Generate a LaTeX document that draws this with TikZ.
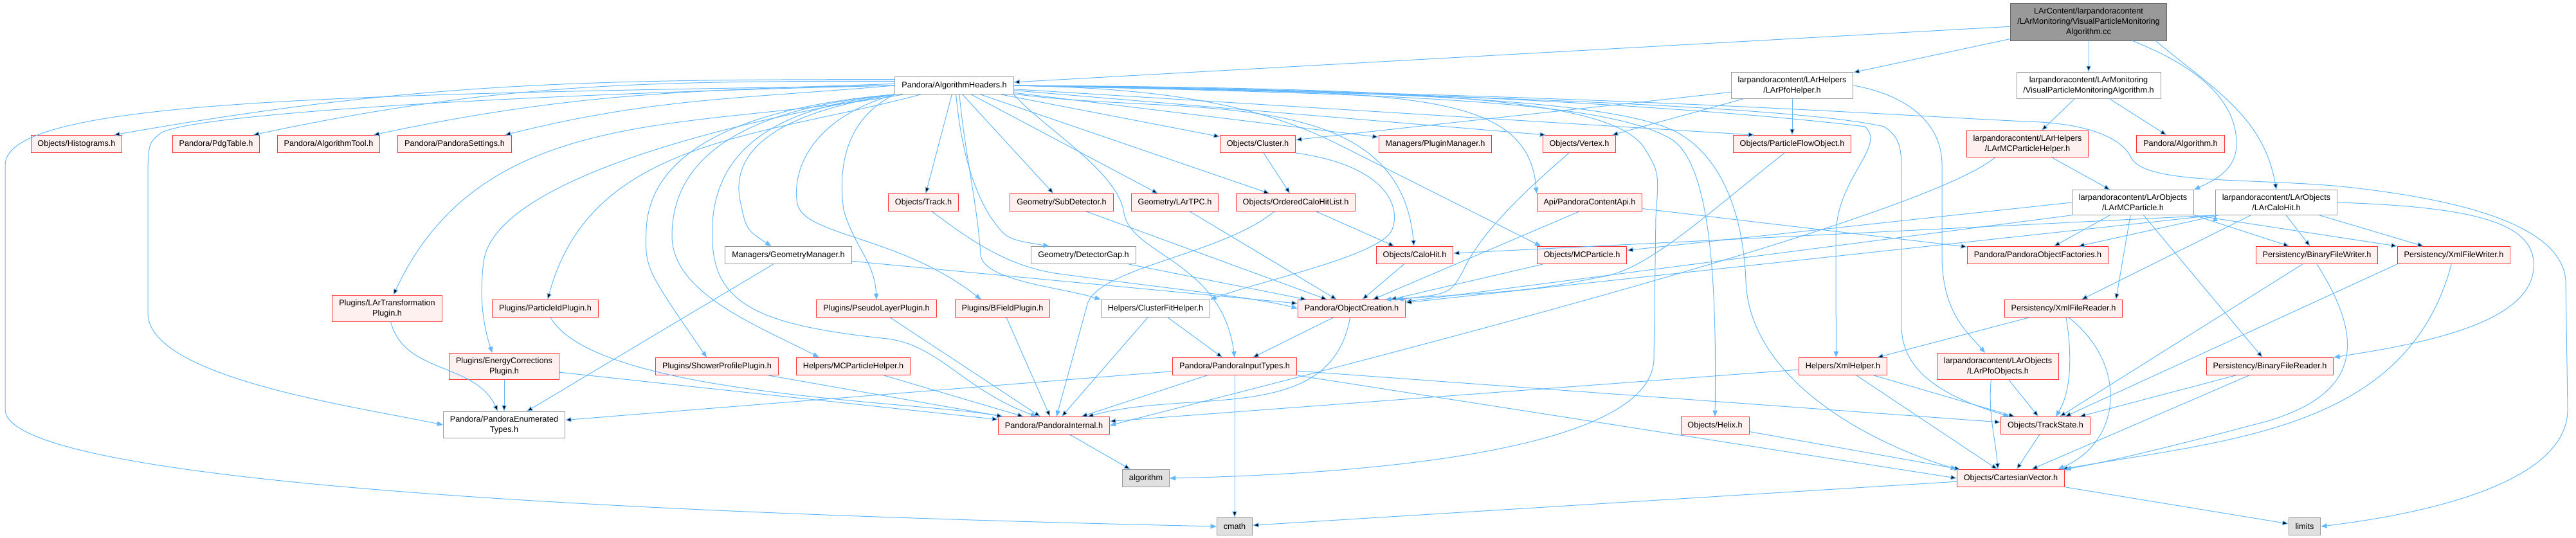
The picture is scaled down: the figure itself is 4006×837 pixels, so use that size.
\documentclass[tikz,border=0pt]{standalone}
\usepackage{fontspec}
\setmainfont{Liberation Sans}
\usetikzlibrary{arrows.meta}
\definecolor{linkblue}{HTML}{63B8FF}
\definecolor{hdrred}{HTML}{FF3333}
\definecolor{hdrfill}{HTML}{FFF0F0}
\definecolor{boxgray}{HTML}{999999}
\definecolor{sysfill}{HTML}{E0E0E0}
\definecolor{rootfill}{HTML}{999999}
\definecolor{rootline}{HTML}{666666}

\begin{document}
\begin{tikzpicture}[x=0.75pt,y=0.75pt,
  every node/.style={rectangle,line width=0.75pt,align=center,inner xsep=7.8pt,inner ysep=5pt,
    minimum height=20.25pt,font=\fontsize{9.5}{12}\selectfont},
  redbox/.style={draw=hdrred,fill=hdrfill},
  whitebox/.style={draw=boxgray,fill=white},
  sysbox/.style={draw=boxgray,fill=sysfill},
  rootbox/.style={draw=rootline,fill=rootfill},
  link/.style={draw=linkblue,line width=0.75pt,-{Triangle[length=7pt,width=5.5pt]}}]
\useasboundingbox (0,0) rectangle (4006,837);

\node[rootbox] (root) at (3248,802.5) {LArContent/larpandoracontent\\/LArMonitoring/VisualParticleMonitoring\\Algorithm.cc};
\node[whitebox] (alghdr) at (1484,704) {Pandora/AlgorithmHeaders.h};
\node[whitebox] (pfohelper) at (2787,704) {larpandoracontent/LArHelpers\\/LArPfoHelper.h};
\node[whitebox] (vpmalgh) at (3248,704) {larpandoracontent/LArMonitoring\\/VisualParticleMonitoringAlgorithm.h};

\node[redbox] (histo) at (119,613) {Objects/Histograms.h};
\node[redbox] (pdgtab) at (336,613) {Pandora/PdgTable.h};
\node[redbox] (algtool) at (511,613) {Pandora/AlgorithmTool.h};
\node[redbox] (settings) at (707,613) {Pandora/PandoraSettings.h};
\node[redbox] (cluster) at (1956,613) {Objects/Cluster.h};
\node[redbox] (pluginmgr) at (2232,613) {Managers/PluginManager.h};
\node[redbox] (vertex) at (2456,613) {Objects/Vertex.h};
\node[redbox] (pfo) at (2787,613) {Objects/ParticleFlowObject.h};
\node[redbox] (mcphelper) at (3153,613) {larpandoracontent/LArHelpers\\/LArMCParticleHelper.h};
\node[redbox] (algoh) at (3391,613) {Pandora/Algorithm.h};

\node[redbox] (track) at (1436,522) {Objects/Track.h};
\node[redbox] (subdet) at (1651,522) {Geometry/SubDetector.h};
\node[redbox] (lartpc) at (1827,522) {Geometry/LArTPC.h};
\node[redbox] (ochl) at (2015,522) {Objects/OrderedCaloHitList.h};
\node[redbox] (contapi) at (2472,522) {Api/PandoraContentApi.h};
\node[whitebox] (larmcp) at (3317,522) {larpandoracontent/LArObjects\\/LArMCParticle.h};
\node[whitebox] (larcalo) at (3540,522) {larpandoracontent/LArObjects\\/LArCaloHit.h};

\node[whitebox] (geomgr) at (1226,440) {Managers/GeometryManager.h};
\node[whitebox] (detgap) at (1685,440) {Geometry/DetectorGap.h};
\node[redbox] (calohit) at (2200,440) {Objects/CaloHit.h};
\node[redbox] (mcpart) at (2460,440) {Objects/MCParticle.h};
\node[redbox] (factories) at (3169,440) {Pandora/PandoraObjectFactories.h};
\node[redbox] (binwriter) at (3603,440) {Persistency/BinaryFileWriter.h};
\node[redbox] (xmlwriter) at (3816,440) {Persistency/XmlFileWriter.h};

\node[redbox] (lartrans) at (602,357) {Plugins/LArTransformation\\Plugin.h};
\node[redbox] (pidplugin) at (848,357) {Plugins/ParticleIdPlugin.h};
\node[redbox] (pseudo) at (1363,357) {Plugins/PseudoLayerPlugin.h};
\node[redbox] (bfield) at (1559,357) {Plugins/BFieldPlugin.h};
\node[whitebox] (clusterfit) at (1797,357) {Helpers/ClusterFitHelper.h};
\node[redbox] (objcreation) at (2102,357) {Pandora/ObjectCreation.h};
\node[redbox] (xmlreader) at (3209,357) {Persistency/XmlFileReader.h};

\node[redbox] (encorr) at (784,267) {Plugins/EnergyCorrections\\Plugin.h};
\node[redbox] (showerprof) at (1115,267) {Plugins/ShowerProfilePlugin.h};
\node[redbox] (mchelp) at (1327,267) {Helpers/MCParticleHelper.h};
\node[redbox] (inputtypes) at (1920,267) {Pandora/PandoraInputTypes.h};
\node[redbox] (xmlhelper) at (2866,267) {Helpers/XmlHelper.h};
\node[redbox] (pfoobj) at (3107,267) {larpandoracontent/LArObjects\\/LArPfoObjects.h};
\node[redbox] (binreader) at (3530,267) {Persistency/BinaryFileReader.h};

\node[whitebox] (penum) at (784,176) {Pandora/PandoraEnumerated\\Types.h};
\node[redbox] (pinternal) at (1639,175) {Pandora/PandoraInternal.h};
\node[redbox] (helix) at (2667,175) {Objects/Helix.h};
\node[redbox] (trackstate) at (3181,175) {Objects/TrackState.h};

\node[sysbox] (algstd) at (1782,93) {algorithm};
\node[redbox] (cartvec) at (3127,93) {Objects/CartesianVector.h};

\node[sysbox] (cmath) at (1920,18) {cmath};
\node[sysbox] (limits) at (3584,18) {limits};

% direct includes
\path[link]
  (root) edge (alghdr)
  (root) edge (pfohelper)
  (root) edge (vpmalgh)
  ([xshift=-13pt]root.south east) edge[out=-40,in=100] (larcalo.north)
  (vpmalgh) edge (mcphelper)
  (vpmalgh) edge (algoh)
  (mcphelper) edge (larmcp)
  (pfohelper) edge (cluster)
  (pfohelper) edge (vertex)
  (pfohelper) edge (pfo)
  ([yshift=7pt]alghdr.west) edge[out=180,in=10] ([xshift=-10pt]histo.north east)
  ([yshift=5pt]alghdr.west) edge[out=180,in=12] ([xshift=-8pt]pdgtab.north east)
  ([yshift=2pt]alghdr.west) edge[out=182,in=12] ([xshift=-8pt]algtool.north east)
  (alghdr.west) edge[out=185,in=14] ([xshift=-8pt]settings.north east)
  (alghdr) edge[out=190,in=65] (lartrans)
  (alghdr) edge[out=195,in=75] (pidplugin)
  (alghdr) edge (track)
  (alghdr) edge (subdet)
  (alghdr) edge (lartpc)
  (alghdr) edge (ochl)
  (alghdr) edge (cluster)
  (alghdr) edge (pluginmgr)
  (alghdr) edge ([xshift=4pt]vertex.north west)
  (alghdr) edge ([xshift=25pt]pfo.north west)
  (alghdr) edge[out=-8,in=95] (calohit)
  (cluster) edge (ochl)
  ([xshift=-12pt]contapi.south) edge (objcreation)
  (contapi) edge (factories)
  (calohit) edge (objcreation)
  (mcpart) edge (objcreation)
  (subdet) edge (objcreation)
  (lartpc) edge (objcreation)
  (ochl) edge (calohit)
  (detgap) edge (objcreation)
  (geomgr) edge (objcreation)
  (geomgr) edge (penum)
  (objcreation) edge (inputtypes)
  (objcreation) edge[out=-100,in=15] (pinternal)
  (clusterfit) edge (pinternal)
  (clusterfit) edge (inputtypes)
  (inputtypes) edge (penum)
  (inputtypes) edge (pinternal)
  (inputtypes) edge (cmath)
  (inputtypes) edge (trackstate)
  (inputtypes.south east) edge (cartvec.west)
  (lartrans) edge[out=-75,in=115] (penum)
  (encorr) edge (penum)
  (encorr) edge (pinternal)
  (pidplugin) edge[out=-60,in=170,looseness=0.5] (pinternal)
  (showerprof) edge (pinternal)
  (mchelp) edge (pinternal)
  (pseudo) edge (pinternal)
  (bfield) edge (pinternal)
  (pinternal) edge (algstd)
  (helix) edge (cartvec)
  (xmlhelper) edge (pinternal)
  (xmlhelper) edge (trackstate)
  (xmlhelper) edge (cartvec)
  (trackstate) edge (cartvec)
  (cartvec) edge (cmath)
  (cartvec) edge (limits)
  (pfoobj) edge (trackstate)
  ([xshift=-8pt]pfoobj.south) edge[out=-95,in=95] ([xshift=-15pt]cartvec.north)
  (binreader) edge (trackstate)
  (binreader) edge (cartvec)
  (xmlreader) edge (xmlhelper)
  (xmlwriter.south west) edge (trackstate)
  (xmlwriter) edge[out=-105,in=10] (cartvec)
  (binwriter) edge (trackstate)
  (larmcp) edge (factories)
  (larmcp.west) edge (mcpart)
  (larmcp.south west) edge (objcreation)
  ([xshift=-3pt]larmcp.south) edge ([xshift=-8pt]xmlreader.north east)
  (larmcp) edge (binreader)
  (larmcp.south east) edge (binwriter)
  (larmcp.south east) edge (xmlwriter.north west)
  (larcalo) edge (factories)
  (larcalo.south west) edge (calohit)
  (larcalo.south west) edge (objcreation)
  (larcalo) edge (xmlreader)
  (larcalo) edge (binwriter)
  (larcalo) edge (xmlwriter);

% routed round other boxes
\draw[link] (alghdr.west) .. controls (500,690) and (8,680) .. (8,580) -- (8,200) .. controls (8,90) and (900,40) .. (cmath.west);
\draw[link] (alghdr.west) .. controls (800,690) and (300,660) .. (250,630) .. controls (232,615) .. (230,580) -- (230,350) .. controls (230,250) and (550,205) .. (penum.west);
\draw[link] (alghdr.south west) .. controls (1150,650) and (770,560) .. (752,430) .. controls (745,370) and (752,330) .. ([xshift=-14pt]encorr.north);
\draw[link] (alghdr.south west) .. controls (1150,670) and (1010,600) .. (1005,480) .. controls (1003,420) .. ([xshift=-12pt]showerprof.north);
\draw[link] (alghdr.south west) .. controls (1170,670) and (1045,600) .. (1045,470) .. controls (1045,380) and (1180,330) .. ([xshift=-40pt]mchelp.north);
\draw[link] (alghdr.south west) .. controls (1200,670) and (1100,600) .. (1108,460) .. controls (1112,360) and (1190,330) .. (1380,310) .. controls (1460,300) and (1500,230) .. ([xshift=-20pt]pinternal.north);
\draw[link] (alghdr.south west) .. controls (1200,660) and (1140,600) .. (1150,530) .. controls (1160,480) .. ([xshift=-20pt]geomgr.north);
\draw[link] (alghdr.south west) .. controls (1330,660) and (1300,600) .. (1312,510) .. controls (1330,450) and (1360,430) .. (pseudo.north);
\draw[link] (alghdr.south west) .. controls (1250,650) and (1232,560) .. (1240,520) .. controls (1250,470) and (1400,470) .. ([xshift=-25pt]bfield.north);
\draw[link] ([xshift=2pt]alghdr.south) .. controls (1495,600) and (1515,540) .. (1540,500) .. controls (1565,465) .. ([xshift=-40pt]detgap.north);
\draw[link] ([xshift=6pt]alghdr.south) .. controls (1500,600) and (1520,520) .. (1525,440) .. controls (1530,400) and (1650,390) .. (clusterfit.north west);
\draw[link] (alghdr.south east) .. controls (1620,640) and (1740,570) .. (1748,505) .. controls (1760,440) and (1900,430) .. (inputtypes.north);
\draw[link] (alghdr.east) .. controls (1800,700) and (1952,677) .. (2080,613) -- ([xshift=5pt]mcpart.north west);
\draw[link] (alghdr.east) .. controls (2150,690) and (2375,710) .. (contapi.north west);
\draw[link] (alghdr.east) .. controls (2200,690) and (2500,680) .. (2600,620) .. controls (2660,580) and (2670,400) .. (helix.north);
\draw[link] (alghdr.east) .. controls (2200,695) and (2520,680) .. (2610,630) .. controls (2680,590) and (2711,500) .. (2715,400) .. controls (2720,250) and (2900,150) .. (cartvec.north west);
\draw[link] (alghdr.east) .. controls (2250,700) and (2500,680) .. (2555,610) .. controls (2580,570) .. (2575,500) -- (2572,280) .. controls (2572,140) and (2150,100) .. (algstd.east);
\draw[link] (alghdr.east) .. controls (2200,700) and (2700,665) .. (2900,640) .. controls (2935,610) and (2855,560) .. (2855,470) -- ([xshift=-8pt]xmlhelper.north);
\draw[link] (alghdr.east) .. controls (2300,690) and (2800,670) .. (2930,640) .. controls (2960,620) and (2957,600) .. (2957,540) -- (2957,330) .. controls (2957,250) and (3040,215) .. ([xshift=10pt]trackstate.north west);
\draw[link] (alghdr.east) .. controls (2500,690) and (2900,660) .. (3150,648) .. controls (3240,646) and (3300,625) .. (3315,590) .. controls (3340,550) and (3500,560) .. (3640,547) .. controls (3850,525) and (3985,480) .. (3990,400) -- (3993,200) .. controls (3993,80) and (3750,35) .. (limits.east);
\draw[link] ([xshift=-40pt]root.south east) .. controls (3400,740) and (3480,690) .. (3478,610) .. controls (3476,570) and (3440,555) .. (larmcp.north east);
\draw[link] (pfohelper.east) .. controls (2960,690) and (3020,650) .. (3020,580) -- (3020,440) .. controls (3020,350) and (3060,320) .. ([xshift=-15pt]pfoobj.north);
\draw[link] (cluster.south east) .. controls (2150,580) and (2180,520) .. (2165,480) .. controls (2150,440) and (1960,400) .. (clusterfit.north east);
\draw[link] ([xshift=-25pt]ochl.south) .. controls (1900,440) and (1700,420) .. (1690,360) -- ([xshift=3pt]pinternal.north);
\draw[link] ([xshift=-12pt]vertex.south) .. controls (2360,530) and (2300,470) .. (2275,415) .. controls (2255,380) .. ([xshift=-10pt]objcreation.north east);
\draw[link] ([xshift=-9pt]pfo.south) .. controls (2650,500) and (2570,425) .. (2500,408) .. controls (2380,385) .. ([xshift=-24pt]objcreation.north east);
\draw[link] ([xshift=10pt]track.south) .. controls (1500,470) and (1560,425) .. (1640,412) .. controls (1800,390) and (1950,375) .. (objcreation.west);
\draw[link] ([xshift=-38pt]mcphelper.south) .. controls (2973,484) and (1888,218) .. (pinternal.east);
\draw[link] (larcalo.east) .. controls (3850,515) and (3945,490) .. (3940,420) .. controls (3935,330) and (3750,300) .. (binreader.north east);
\draw[link] (binwriter.south) .. controls (3670,320) and (3690,220) .. (3500,175) .. controls (3350,135) and (3260,115) .. (cartvec.north east);
\draw[link] ([xshift=6pt]xmlreader.south) .. controls (3310,270) and (3300,150) .. ([xshift=-8pt]cartvec.north east);
\draw[link] ([xshift=3pt]xmlreader.south) .. controls (3222,290) and (3222,230) .. ([xshift=12pt]trackstate.north);
\end{tikzpicture}
\end{document}
